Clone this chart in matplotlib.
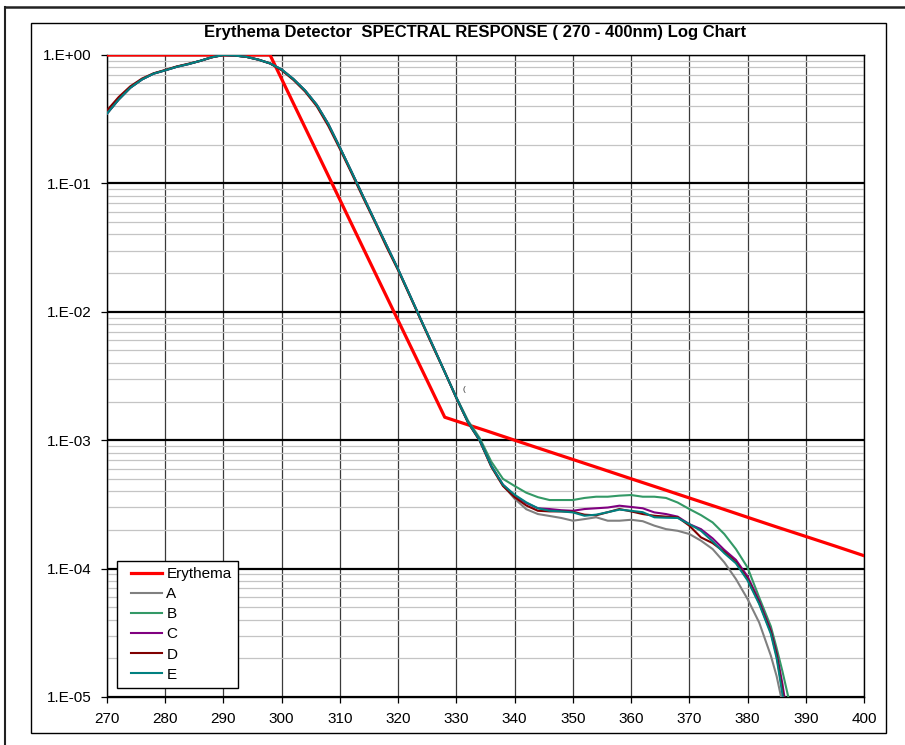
import matplotlib
matplotlib.use("Agg")
import matplotlib.pyplot as plt
from matplotlib.lines import Line2D
from matplotlib.patches import Rectangle
from matplotlib.ticker import FixedLocator, LogLocator, NullFormatter
from matplotlib.legend_handler import HandlerLine2D

plt.rcParams['font.family'] = ['Liberation Sans', 'DejaVu Sans']

# ---------------- data ----------------
ery_nm = [270, 298, 300, 305, 310, 315, 320, 325, 328, 330, 335, 340, 345, 350,
          355, 360, 365, 370, 375, 380, 385, 390, 395, 400]
ery_val = [1.0, 1.0, 0.649, 0.220, 0.0745, 0.0252, 0.00855, 0.0029, 0.00151,
           0.00141, 0.00119, 0.00100, 8.41e-4, 7.08e-4, 5.96e-4, 5.01e-4,
           4.22e-4, 3.55e-4, 2.99e-4, 2.51e-4, 2.11e-4, 1.78e-4, 1.50e-4, 1.26e-4]

det_nm = [270, 272, 274, 276, 278, 280, 282, 284, 286, 288, 290, 292, 294, 296,
          298, 300, 302, 304, 306, 308, 310, 312, 314, 316, 318, 320, 322, 324,
          326, 328, 330, 332, 334, 336, 338, 340, 342, 344, 346, 348, 350, 352,
          354, 356, 358, 360, 362, 364, 366, 368, 370, 372, 374, 376, 378, 380,
          382, 384, 385, 386, 387, 388]

det_A = [0.35, 0.45, 0.556, 0.645, 0.716, 0.76, 0.81, 0.85, 0.90, 0.96, 1.0, 0.99,
         0.966, 0.92, 0.86, 0.77, 0.65, 0.53, 0.41, 0.29, 0.19, 0.123, 0.079,
         0.051, 0.033, 0.0214, 0.0135, 0.0085, 0.0054, 0.0034, 0.00214, 0.00138,
         0.00100, 6.3e-4, 4.45e-4, 3.5e-4, 2.9e-4, 2.66e-4, 2.57e-4, 2.48e-4,
         2.36e-4, 2.43e-4, 2.51e-4, 2.36e-4, 2.36e-4, 2.40e-4, 2.34e-4, 2.16e-4,
         2.03e-4, 1.97e-4, 1.86e-4, 1.65e-4, 1.42e-4, 1.12e-4, 8.3e-5, 5.8e-5,
         3.8e-5, 2.1e-5, 1.45e-5, 8.9e-6, 5.0e-6, 2.8e-6]
det_B = [0.35, 0.45, 0.556, 0.645, 0.716, 0.76, 0.81, 0.85, 0.90, 0.96, 1.0, 0.99,
         0.966, 0.92, 0.86, 0.77, 0.65, 0.53, 0.41, 0.29, 0.19, 0.123, 0.079,
         0.051, 0.033, 0.0214, 0.0135, 0.0085, 0.0054, 0.0034, 0.00216, 0.00142,
         0.00104, 6.8e-4, 5.0e-4, 4.4e-4, 3.9e-4, 3.6e-4, 3.42e-4, 3.42e-4,
         3.42e-4, 3.55e-4, 3.63e-4, 3.63e-4, 3.70e-4, 3.74e-4, 3.63e-4, 3.63e-4,
         3.55e-4, 3.27e-4, 2.91e-4, 2.61e-4, 2.29e-4, 1.86e-4, 1.42e-4, 1.02e-4,
         5.96e-5, 3.55e-5, 2.4e-5, 1.58e-5, 1.0e-5, 5.6e-6]
det_C = [0.35, 0.45, 0.556, 0.645, 0.716, 0.76, 0.81, 0.85, 0.90, 0.96, 1.0, 0.99,
         0.966, 0.92, 0.86, 0.77, 0.65, 0.53, 0.41, 0.29, 0.19, 0.123, 0.079,
         0.051, 0.033, 0.0214, 0.0135, 0.0085, 0.0054, 0.0034, 0.00214, 0.00138,
         0.00100, 6.3e-4, 4.5e-4, 3.7e-4, 3.24e-4, 2.95e-4, 2.91e-4, 2.85e-4,
         2.82e-4, 2.91e-4, 2.95e-4, 2.99e-4, 3.09e-4, 3.02e-4, 2.95e-4, 2.74e-4,
         2.66e-4, 2.54e-4, 2.22e-4, 2.03e-4, 1.72e-4, 1.40e-4, 1.17e-4, 8.7e-5,
         5.6e-5, 3.3e-5, 2.2e-5, 1.26e-5, 6.3e-6, 3.2e-6]
det_D = [0.37, 0.47, 0.57, 0.655, 0.72, 0.765, 0.815, 0.855, 0.90, 0.96, 1.0, 0.99,
         0.966, 0.92, 0.86, 0.76, 0.64, 0.52, 0.40, 0.28, 0.185, 0.12, 0.077,
         0.050, 0.032, 0.0210, 0.0133, 0.0084, 0.0053, 0.0034, 0.00212, 0.00137,
         0.00099, 6.2e-4, 4.4e-4, 3.6e-4, 3.1e-4, 2.82e-4, 2.79e-4, 2.79e-4,
         2.77e-4, 2.63e-4, 2.60e-4, 2.75e-4, 2.91e-4, 2.79e-4, 2.66e-4, 2.58e-4,
         2.54e-4, 2.51e-4, 2.16e-4, 1.75e-4, 1.58e-4, 1.35e-4, 1.12e-4, 8.3e-5,
         5.4e-5, 3.2e-5, 2.1e-5, 1.12e-5, 5.6e-6, 2.8e-6]
det_E = [0.35, 0.45, 0.556, 0.645, 0.716, 0.76, 0.81, 0.85, 0.90, 0.96, 1.0, 0.99,
         0.966, 0.92, 0.86, 0.77, 0.65, 0.53, 0.41, 0.29, 0.19, 0.123, 0.079,
         0.051, 0.033, 0.0214, 0.0135, 0.0085, 0.0054, 0.0034, 0.00214, 0.00138,
         0.00100, 6.3e-4, 4.5e-4, 3.76e-4, 3.28e-4, 2.95e-4, 2.82e-4, 2.79e-4,
         2.74e-4, 2.58e-4, 2.63e-4, 2.75e-4, 2.88e-4, 2.82e-4, 2.75e-4, 2.51e-4,
         2.49e-4, 2.48e-4, 2.22e-4, 1.97e-4, 1.63e-4, 1.32e-4, 1.10e-4, 8.1e-5,
         5.3e-5, 3.1e-5, 2.0e-5, 1.05e-5, 5.2e-6, 2.6e-6]

series_names = ["Erythema", "A", "B", "C", "D", "E"]
series_colors = ["#ff0000", "#808080", "#339966", "#800080", "#800000", "#008080"]

x_ticks = [270, 280, 290, 300, 310, 320, 330, 340, 350, 360, 370, 380, 390, 400]
y_ticks = [1e0, 1e-1, 1e-2, 1e-3, 1e-4, 1e-5]
y_labels = ["1.E+00", "1.E-01", "1.E-02", "1.E-03", "1.E-04", "1.E-05"]
title = "Erythema Detector  SPECTRAL RESPONSE ( 270 - 400nm) Log Chart"

# ---------------- figure ----------------
W, H = 905, 745
fig = plt.figure(figsize=(W / 100, H / 100), dpi=100)

def fx(px):
    return px / W

def fy(py):
    return 1 - py / H

# outer page border
fig.add_artist(Line2D([fx(5), fx(5)], [fy(7), fy(745)], color="#222222", lw=1.5))
fig.add_artist(Line2D([fx(5), fx(905)], [fy(7), fy(7)], color="#222222", lw=1.8))
# chart frame
fig.add_artist(Rectangle((fx(31), fy(733)), fx(886) - fx(31), fy(23) - fy(733),
                         transform=fig.transFigure, fill=False, edgecolor="black", lw=1.0))

ax = fig.add_axes([fx(107), fy(697), fx(864) - fx(107), fy(55) - fy(697)])
ax.set_yscale("log")
ax.set_xlim(270, 400)
ax.set_ylim(1e-5, 1.0)

# grid
ax.yaxis.set_minor_locator(LogLocator(base=10, subs=[2, 3, 4, 5, 6, 7, 8, 9], numticks=20))
ax.yaxis.set_minor_formatter(NullFormatter())
ax.grid(which="minor", axis="y", color="#c4c4c4", lw=0.9)
ax.grid(which="major", axis="y", color="black", lw=1.6)
ax.grid(which="major", axis="x", color="#3a3a3a", lw=0.9)
ax.set_axisbelow(True)

ax.plot(ery_nm, ery_val, color=series_colors[0], lw=2.3, label=series_names[0], zorder=3)
for name, col, vals in zip(series_names[1:], series_colors[1:],
                           [det_A, det_B, det_C, det_D, det_E]):
    ax.plot(det_nm, vals, color=col, lw=1.5, label=name, zorder=3)

ax.text(331.3, 2.5e-3, "(", fontsize=6, color="#333333", ha="center", va="center")

ax.xaxis.set_major_locator(FixedLocator(x_ticks))
ax.set_xticklabels([str(v) for v in x_ticks])
ax.yaxis.set_major_locator(FixedLocator(y_ticks))
ax.set_yticklabels(y_labels)
ax.tick_params(axis="both", which="major", direction="out", length=4, width=0.9,
               color="black", labelsize=11)
ax.tick_params(axis="x", pad=7)
ax.tick_params(axis="y", pad=7)
ax.tick_params(which="minor", length=0)
for s in ax.spines.values():
    s.set_color("black")
    s.set_linewidth(1.0)

fig.text(fx(475), fy(33), title, ha="center", va="center", fontsize=12, fontweight="bold")


class OffsetLineHandler(HandlerLine2D):
    """Legend line handle inset from the left edge of the handle box."""
    def __init__(self, inset_px, **kw):
        super().__init__(**kw)
        self.inset = inset_px

    def create_artists(self, legend, orig_handle, xdescent, ydescent, width,
                       height, fontsize, trans):
        return super().create_artists(legend, orig_handle, xdescent - self.inset,
                                      ydescent, width - self.inset, height,
                                      fontsize, trans)


handles, labels = ax.get_legend_handles_labels()
leg = ax.legend(handles, labels, loc="upper left", bbox_to_anchor=(fx(117), fy(561)),
                bbox_transform=fig.transFigure, borderaxespad=0, fontsize=11,
                frameon=True, fancybox=False, edgecolor="black", framealpha=1,
                handlelength=2.55, handletextpad=0.28, labelspacing=0.4,
                borderpad=0.4,
                handler_map={Line2D: OffsetLineHandler(6)})
leg.get_frame().set_linewidth(1.0)
leg.set_zorder(5)

fig.savefig("out.png", dpi=100)
